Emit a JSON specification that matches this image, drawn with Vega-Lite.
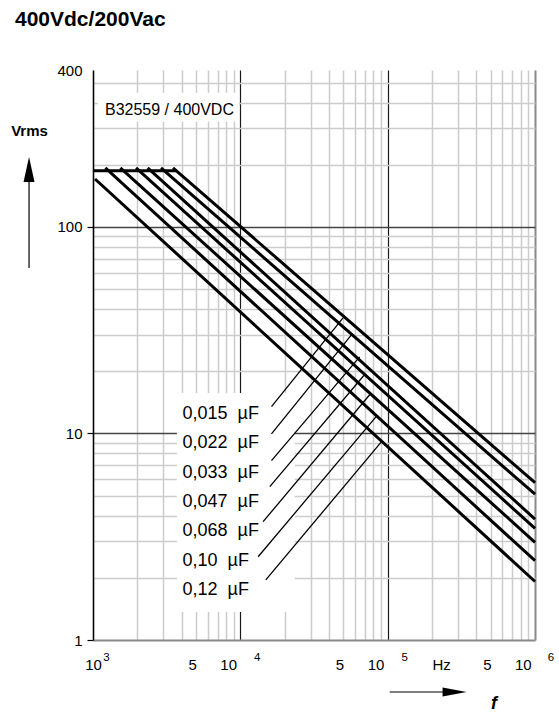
{
  "$schema": "https://vega.github.io/schema/vega-lite/v6.json",
  "width": 442,
  "height": 570,
  "autosize": {"type": "none"},
  "padding": {"left": 93, "top": 70, "right": 24, "bottom": 73},
  "background": "white",
  "config": {"view": {"stroke": null}, "font": "Liberation Sans"},
  "title": {"text": "400Vdc/200Vac", "anchor": "start", "frame": "group", "dx": -78, "offset": 16, "fontSize": 21, "fontWeight": "bold", "font": "Liberation Sans", "color": "black", "baseline": "alphabetic"},
  "datasets": {
    "curves": [
      {"s": "flat", "f": 1000, "v": 187}, {"s": "flat", "f": 3653, "v": 187},
      {"s": "0,015", "f": 3489, "v": 193}, {"s": "0,015", "f": 1000000, "v": 5.78},
      {"s": "0,022", "f": 2893, "v": 193}, {"s": "0,022", "f": 1000000, "v": 5.08},
      {"s": "0,033", "f": 2350, "v": 193}, {"s": "0,033", "f": 1000000, "v": 3.85},
      {"s": "0,047", "f": 1959, "v": 193}, {"s": "0,047", "f": 1000000, "v": 3.47},
      {"s": "0,068", "f": 1533, "v": 193}, {"s": "0,068", "f": 1000000, "v": 2.97},
      {"s": "0,10", "f": 1213, "v": 193}, {"s": "0,10", "f": 1000000, "v": 2.42},
      {"s": "0,12", "f": 1032, "v": 170.6}, {"s": "0,12", "f": 1000000, "v": 1.92}
    ],
    "leaders": [
      {"id": "L1", "f": 16274, "v": 13.5}, {"id": "L1", "f": 49770, "v": 36.3},
      {"id": "L2", "f": 16274, "v": 9.96}, {"id": "L2", "f": 56750, "v": 30.0},
      {"id": "L3", "f": 16274, "v": 7.39}, {"id": "L3", "f": 64570, "v": 23.5},
      {"id": "L4", "f": 15849, "v": 5.53}, {"id": "L4", "f": 69840, "v": 19.3},
      {"id": "L5", "f": 14275, "v": 3.74}, {"id": "L5", "f": 75500, "v": 15.4},
      {"id": "L6", "f": 13205, "v": 2.53}, {"id": "L6", "f": 83800, "v": 12.1},
      {"id": "L7", "f": 14890, "v": 1.953}, {"id": "L7", "f": 90600, "v": 9.1}
    ],
    "labels": [
      {"t": "0,015 \u00a0µF", "f": 4055, "v": 12.39},
      {"t": "0,022 \u00a0µF", "f": 4055, "v": 8.96},
      {"t": "0,033 \u00a0µF", "f": 4055, "v": 6.46},
      {"t": "0,047 \u00a0µF", "f": 4055, "v": 4.66},
      {"t": "0,068 \u00a0µF", "f": 4055, "v": 3.36},
      {"t": "0,10 \u00a0µF", "f": 4055, "v": 2.42},
      {"t": "0,12 \u00a0µF", "f": 4055, "v": 1.747}
    ],
    "boxes": [
      {"f": 1081, "f2": 9800, "v": 445.6, "v2": 322.5},
      {"f": 3711, "f2": 23420, "v": 15.71, "v2": 1.366}
    ],
    "note": [{"t": "B32559 / 400VDC", "f": 1206, "v": 368.7}],
    "sups": [
      {"t": "3", "f": 1235, "v": 0.818},
      {"t": "4", "f": 13040, "v": 0.818},
      {"t": "5", "f": 130300, "v": 0.818},
      {"t": "6", "f": 1284000, "v": 0.818}
    ],
    "shafts": [
      {"id": "y", "f": 368, "v": 63.3}, {"id": "y", "f": 368, "v": 168},
      {"id": "x", "f": 103200, "v": 0.56}, {"id": "x", "f": 240000, "v": 0.56}
    ],
    "headY": [{"f": 368, "v": 189.9}],
    "headX": [{"f": 284600, "v": 0.56}]
  },
  "encoding": {
    "x": {
      "field": "f", "type": "quantitative",
      "scale": {"type": "log", "domain": [1000, 1000000], "nice": false},
      "axis": {
        "values": [1000, 2000, 3000, 4000, 5000, 6000, 7000, 8000, 9000, 10000, 20000, 30000, 40000, 50000, 60000, 70000, 80000, 90000, 100000, 200000, 300000, 400000, 500000, 600000, 700000, 800000, 900000, 1000000],
        "labelExpr": "(datum.value === 1000 || datum.value === 10000 || datum.value === 100000 || datum.value === 1000000) ? '10' : (datum.value === 5000 || datum.value === 50000 || datum.value === 500000) ? '5' : datum.value === 200000 ? 'Hz' : ''",
        "labelAlign": {"condition": [{"test": "datum.value === 1000 || datum.value === 5000 || datum.value === 50000 || datum.value === 500000", "value": "center"}, {"test": "datum.value === 200000", "value": "left"}], "value": "right"},
        "labelOffset": {"condition": {"test": "datum.value === 1000 || datum.value === 200000", "value": 0}, "value": -3.8},
        "labelFont": "Liberation Sans", "labelFontSize": 15, "labelColor": "black",
        "labelPadding": 17, "labelOverlap": false, "labelBound": false, "labelFlush": false,
        "ticks": false,
        "domainColor": "#888888", "domainWidth": 2,
        "grid": true,
        "gridColor": {"condition": [{"test": "datum.value === 10000 || datum.value === 100000", "value": "#1a1a1a"}, {"test": "datum.value === 1000000", "value": "#8a8a8a"}], "value": "#cccccc"},
        "gridWidth": {"condition": [{"test": "datum.value === 10000 || datum.value === 100000", "value": 1.2}, {"test": "datum.value === 1000000", "value": 2}], "value": 1.5},
        "title": "f", "titleX": 400.5, "titleY": 63, "titleAlign": "center", "titleBaseline": "middle",
        "titleFont": "Liberation Sans", "titleFontSize": 18, "titleFontStyle": "italic", "titleFontWeight": "bold", "titleColor": "black"
      }
    },
    "y": {
      "field": "v", "type": "quantitative",
      "scale": {"type": "log", "domain": [1, 575], "nice": false},
      "axis": {
        "values": [1, 2, 3, 4, 5, 6, 7, 8, 9, 10, 20, 30, 40, 50, 60, 70, 80, 90, 100, 200, 300, 400, 500, 575],
        "labelExpr": "datum.value === 1 ? '1' : datum.value === 10 ? '10' : datum.value === 100 ? '100' : datum.value >= 575 ? '400' : ''",
        "labelFont": "Liberation Sans", "labelFontSize": 15, "labelColor": "black",
        "labelPadding": 5, "labelOverlap": false, "labelBound": false, "labelFlush": false,
        "tickSize": 6, "tickWidth": 1.2,
        "tickOpacity": {"condition": {"test": "datum.value === 1 || datum.value === 10 || datum.value === 100", "value": 1}, "value": 0},
        "tickColor": "black",
        "domainColor": "black", "domainWidth": 1.5,
        "grid": true,
        "gridColor": {"condition": {"test": "datum.value === 10 || datum.value === 100", "value": "#444444"}, "value": "#cccccc"},
        "gridOpacity": {"condition": {"test": "datum.value === 1 || datum.value >= 575", "value": 0}, "value": 1},
        "gridWidth": {"condition": {"test": "datum.value === 10 || datum.value === 100", "value": 1.3}, "value": 1.6},
        "title": "Vrms", "titleAngle": 0, "titleX": -64, "titleY": 60, "titleAlign": "center", "titleBaseline": "middle",
        "titleFont": "Liberation Sans", "titleFontSize": 15, "titleFontWeight": "bold", "titleColor": "black"
      }
    }
  },
  "layer": [
    {
      "data": {"name": "boxes"},
      "mark": {"type": "rect", "fill": "white", "stroke": null},
      "encoding": {"x2": {"field": "f2"}, "y2": {"field": "v2"}}
    },
    {
      "data": {"name": "curves"},
      "mark": {"type": "line", "color": "black", "strokeWidth": 3, "strokeCap": "butt"},
      "encoding": {"detail": {"field": "s", "type": "nominal"}}
    },
    {
      "data": {"name": "leaders"},
      "mark": {"type": "line", "color": "black", "strokeWidth": 1.3},
      "encoding": {"detail": {"field": "id", "type": "nominal"}}
    },
    {
      "data": {"name": "labels"},
      "mark": {"type": "text", "align": "left", "baseline": "middle", "fontSize": 18, "font": "Liberation Sans", "color": "black"},
      "encoding": {"text": {"field": "t"}}
    },
    {
      "data": {"name": "note"},
      "mark": {"type": "text", "align": "left", "baseline": "middle", "fontSize": 16, "font": "Liberation Sans", "color": "black"},
      "encoding": {"text": {"field": "t"}}
    },
    {
      "data": {"name": "sups"},
      "mark": {"type": "text", "align": "center", "baseline": "middle", "fontSize": 11.5, "font": "Liberation Sans", "color": "black"},
      "encoding": {"text": {"field": "t"}}
    },
    {
      "data": {"name": "shafts"},
      "mark": {"type": "line", "color": "black", "strokeWidth": 1.2},
      "encoding": {"detail": {"field": "id", "type": "nominal"}}
    },
    {
      "data": {"name": "headY"},
      "mark": {"type": "point", "shape": "M0,-1L0.44,1L-0.44,1Z", "size": 625, "filled": true, "color": "black", "opacity": 1}
    },
    {
      "data": {"name": "headX"},
      "mark": {"type": "point", "shape": "M1,0L-1,-0.375L-1,0.375Z", "size": 576, "filled": true, "color": "black", "opacity": 1}
    }
  ]
}
